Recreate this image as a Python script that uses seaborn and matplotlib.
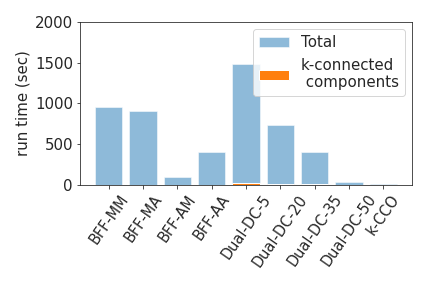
import pandas as pd
import matplotlib.pyplot as plt
import seaborn as sns

# --- Data ---
methods = ['BFF-MM', 'BFF-MA', 'BFF-AM', 'BFF-AA', 'Dual-DC-5',
           'Dual-DC-20', 'Dual-DC-35', 'Dual-DC-50', 'k-CCO']
total_time = [960, 910, 100, 405, 1485, 738, 405, 37, 12]
kcc_time = [0, 0, 0, 0, 25, 15, 15, 0, 0]

df = pd.DataFrame({'method': methods, 'total': total_time, 'kcc': kcc_time})

sns.set_style('ticks')
plt.rcParams['font.family'] = ['DejaVu Sans']
fig, ax = plt.subplots(figsize=(6, 4), dpi=72)

sns.barplot(data=df, x='method', y='total', color='tab:blue', alpha=0.5,
            saturation=1, width=0.8, label='Total', ax=ax)
sns.barplot(data=df, x='method', y='kcc', color='tab:orange',
            saturation=1, width=0.8, label='k-connected\n components', ax=ax)

# same side margins as plain matplotlib bars
ax.set_xlim(-0.84, len(methods) - 1 + 0.84)
ax.set_ylim(0, 2000)
ax.set_yticks([0, 500, 1000, 1500, 2000])
ax.set_xlabel('')
ax.set_ylabel('run time (sec)', fontsize=15)
ax.tick_params(axis='y', labelsize=15)
ax.tick_params(axis='x', labelsize=14.5, rotation=55)
for lab in ax.get_xticklabels():
    lab.set_ha('center')
ax.legend(fontsize=15, loc='upper right')

fig.subplots_adjust(left=0.185, right=0.954, top=0.924, bottom=0.358)
plt.savefig('out.png', dpi=72)
